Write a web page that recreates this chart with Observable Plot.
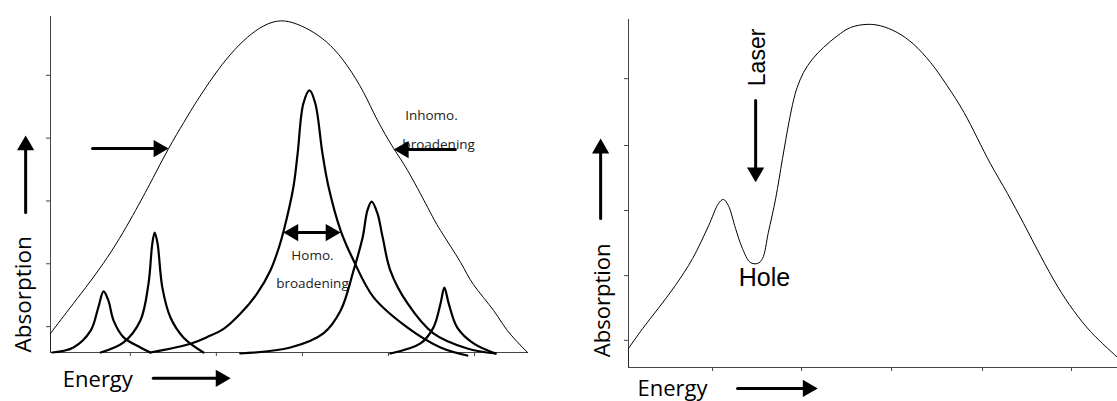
<!DOCTYPE html>
<html><head><meta charset="utf-8">
<script src="https://cdn.jsdelivr.net/npm/d3@7"></script>
<script src="https://cdn.jsdelivr.net/npm/@observablehq/plot@0.6"></script>
<style>
body{margin:0;background:#fff;}
#wrap{display:flex;width:1117px;height:401px;overflow:hidden;background:#fff;}
</style></head><body><div id="wrap"></div>
<script>
// ---------- Left panel data (energy 0-100, absorption 0-100) ----------
const leftEnergyTicks = [16.7, 34.7, 52.7, 70.7, 88.7];
const leftAbsTicks = [7.7, 26.4, 45.1, 63.8, 82.5];

const inhomoX = [0, 4.8, 11.9, 17.8, 21.5, 24.7, 27.9, 30.7, 34.2, 37.7, 41.2, 44.6, 48.1, 51.6, 55.1, 58.6, 62.1, 65.5, 68.3, 71.8, 74.7, 78.9, 81.6, 85.8, 88.5, 92.7, 95.6, 99.8];
const inhomoY = [5.7, 14.6, 28.3, 42.3, 52.1, 60.7, 68.5, 75.0, 82.4, 88.8, 93.8, 97.2, 98.7, 97.7, 95.2, 91.3, 85.3, 77.4, 69.4, 60.7, 54.2, 43.2, 36.3, 26.8, 20.2, 12.5, 6.5, 0];

const peak1X = [0.4, 4.8, 8.4, 10.0, 11.1, 12.1, 13.2, 15.3, 18.8, 20.9];
const peak1Y = [0, 1.5, 6.5, 13.4, 18.2, 15.5, 9.5, 4.5, 1.5, 0];

const peak2X = [10.5, 15.3, 18.8, 20.5, 21.3, 21.8, 22.4, 23.4, 25.1, 27.8, 32.0];
const peak2Y = [0, 3.0, 9.5, 20.5, 32.4, 35.7, 32.4, 19.3, 10.4, 4.5, 0];

const peak3X = [20.9, 29.3, 32.8, 36.3, 39.7, 43.2, 46.0, 47.8, 48.8, 50.8, 51.7, 52.9, 54.2, 55.4, 56.9, 58.2, 60.7, 63.4, 67.6, 74.7, 81.6, 87.2];
const peak3Y = [0, 2.6, 4.6, 7.1, 11.5, 17.5, 24.4, 31.3, 36.3, 49.1, 59.2, 74.1, 78.0, 74.1, 59.2, 49.1, 36.3, 27.4, 16.4, 7.4, 1.5, -0.9];

const peak4X = [39.7, 50.2, 57.1, 60.7, 63.4, 65.3, 66.3, 67.2, 68.4, 69.5, 71.1, 74.7, 80.1, 87.2, 93.1];
const peak4Y = [-0.3, 1.5, 5.7, 12.5, 24.4, 34.2, 42.3, 44.9, 41.4, 34.2, 24.4, 14.6, 5.7, 1.2, -0.3];

const peak5X = [71.1, 77.4, 80.1, 81.6, 82.4, 83.3, 85.1, 88.5, 93.1];
const peak5Y = [-0.3, 2.7, 7.4, 14.6, 19.3, 14.6, 7.4, 2.7, -0.3];

// ---------- Right panel data ----------
const rightEnergyTicks = [17.2, 35.4, 53.8, 72.4, 90.6];
const rightAbsTicks = [7.8, 26.4, 45.1, 63.8, 83.0];

const holeX = [0, 2.9, 6.1, 9.6, 13.1, 16.4, 18.4, 19.4, 20.4, 21.9, 23.3, 24.9, 26.4, 27.4, 28.6, 30.1, 31.5, 32.8, 33.8, 34.5, 35.8, 37.6, 39.9, 42.7, 45.4, 48.8, 51.5, 54.9, 58.3, 61.8, 65.2, 68.6, 74.0, 77.5, 80.8, 84.3, 87.7, 91.0, 94.5, 100];
const holeY = [5.5, 11.2, 17.0, 23.6, 31.3, 40.8, 47.1, 48.3, 46.6, 39.9, 34.2, 30.2, 29.9, 31.3, 38.8, 48.6, 60.1, 70.4, 77.1, 80.5, 84.8, 88.6, 92.0, 95.3, 97.7, 98.6, 98.2, 96.3, 92.9, 87.6, 80.9, 73.3, 58.6, 50.0, 41.4, 32.0, 23.4, 16.4, 10.3, 2.9];

// ---------- helpers ----------
const toRows = (name, xs, ys) => xs.map((x, i) => ({series: name, energy: x, abs: ys[i]}));

const R = 6.4;                       // triangle head "radius"
const HEAD = R * 2 * Math.sqrt(Math.PI / (3 * Math.sqrt(3))); // centroid→tip distance (px)
function arrowMarks(a) {
  const dirX = Math.sign(a.x2 - a.x1), dirY = -Math.sign(a.y2 - a.y1);
  const rot = dirX > 0 ? 90 : dirX < 0 ? -90 : dirY > 0 ? 180 : 0;
  const marks = [
    Plot.arrow([a], {x1: "x1", y1: "y1", x2: "x2", y2: "y2", headLength: 0, strokeWidth: 3,
      stroke: "black", insetEnd: 8, insetStart: a.both ? 8 : 0})
  ];
  marks.push(Plot.dot([a], {x: "x2", y: "y2", symbol: "triangle", r: R, fill: "black", stroke: "none",
    rotate: rot, dx: -dirX * HEAD, dy: -dirY * HEAD}));
  if (a.both) marks.push(Plot.dot([a], {x: "x1", y: "y1", symbol: "triangle", r: R, fill: "black", stroke: "none",
    rotate: rot + 180, dx: dirX * HEAD, dy: dirY * HEAD}));
  return marks;
}

const calibri = "'Open Sans', Lato, sans-serif";
const arial = "'Liberation Sans', Arial, sans-serif";

// ---------- Left plot ----------
const inhomo = toRows("inhomo", inhomoX, inhomoY);
const peaks = [
  ...toRows("p1", peak1X, peak1Y), ...toRows("p2", peak2X, peak2Y), ...toRows("p3", peak3X, peak3Y),
  ...toRows("p4", peak4X, peak4Y), ...toRows("p5", peak5X, peak5Y)
];

const left = Plot.plot({
  width: 560, height: 401,
  marginLeft: 50, marginRight: 32, marginTop: 16, marginBottom: 49,
  x: {domain: [0, 100], label: null},
  y: {domain: [0, 100], label: null},
  style: {fontFamily: calibri, background: "white", overflow: "visible"},
  marks: [
    Plot.ruleX([0], {stroke: "#444"}),
    Plot.ruleY([0], {stroke: "#444"}),
    Plot.axisX(leftEnergyTicks, {tickSize: 4, tickFormat: () => "", stroke: "#444", label: null}),
    Plot.axisY(leftAbsTicks, {tickSize: 4, tickFormat: () => "", stroke: "#444", label: null}),
    Plot.ruleX(inhomo.slice(0, 1), {x: "energy", y1: 0, y2: "abs", stroke: "#222"}),
    Plot.text(["Inhomo."], {x: 79.7, y: 70.5, fontSize: 13.5, fill: "#222"}),
    Plot.text(["broadening"], {x: 81.2, y: 61.9, fontSize: 13.5, fill: "#222"}),
    Plot.text(["Homo."], {x: 54.8, y: 28.9, fontSize: 13.5, fill: "#222"}),
    Plot.text(["broadening"], {x: 54.8, y: 20.5, fontSize: 13.5, fill: "#222"}),
    Plot.line(inhomo, {x: "energy", y: "abs", curve: "natural", stroke: "black", strokeWidth: 1}),
    Plot.line(peaks, {x: "energy", y: "abs", z: "series", curve: "catmull-rom", stroke: "black", strokeWidth: 2.2}),
    Plot.text(["Absorption"], {x: -5.6, y: 17.3, rotate: -90, fontSize: 22.5, fill: "black"}),
    Plot.text(["Energy"], {x: 9.9, y: -8.3, fontSize: 22, fill: "black"}),
    ...arrowMarks({x1: -5.2, y1: 41.7, x2: -5.2, y2: 64.6}),
    ...arrowMarks({x1: 21.5, y1: -7.7, x2: 37.7, y2: -7.7}),
    ...arrowMarks({x1: 8.8, y1: 60.7, x2: 24.7, y2: 60.7}),
    ...arrowMarks({x1: 84.7, y1: 60.4, x2: 71.8, y2: 60.4}),
    ...arrowMarks({x1: 48.7, y1: 35.7, x2: 60.7, y2: 35.7, both: true})
  ]
});

// ---------- Right plot ----------
const hole = toRows("hole", holeX, holeY);
const right = Plot.plot({
  width: 557, height: 401,
  marginLeft: 68, marginRight: 0, marginTop: 19, marginBottom: 34,
  x: {domain: [0, 100], label: null},
  y: {domain: [0, 100], label: null},
  style: {fontFamily: calibri, background: "white", overflow: "visible"},
  marks: [
    Plot.ruleX([0], {stroke: "#444"}),
    Plot.ruleY([0], {stroke: "#444"}),
    Plot.axisX(rightEnergyTicks, {tickSize: 4, tickFormat: () => "", stroke: "#444", label: null}),
    Plot.axisY(rightAbsTicks, {tickSize: 4, tickFormat: () => "", stroke: "#444", label: null}),
    Plot.ruleX(hole.slice(0, 1), {x: "energy", y1: 0, y2: "abs", stroke: "#222"}),
    Plot.line(hole, {x: "energy", y: "abs", curve: "catmull-rom", stroke: "black", strokeWidth: 1}),
    Plot.text(["Laser"], {x: 26.4, y: 89.1, rotate: -90, fontSize: 23, fontFamily: arial, fill: "black"}),
    Plot.text(["Hole"], {x: 27.8, y: 25.6, fontSize: 25, fontFamily: arial, fill: "black"}),
    Plot.text(["Absorption"], {x: -5.3, y: 19.3, rotate: -90, fontSize: 22, fill: "black"}),
    Plot.text(["Energy"], {x: 9.0, y: -6.3, fontSize: 22, fill: "black"}),
    ...arrowMarks({x1: 26.0, y1: 76.7, x2: 26.0, y2: 53.2}),
    ...arrowMarks({x1: -5.7, y1: 42.8, x2: -5.7, y2: 65.8}),
    ...arrowMarks({x1: 22.3, y1: -6.0, x2: 38.7, y2: -6.0})
  ]
});

const wrap = document.getElementById("wrap");
wrap.appendChild(left);
wrap.appendChild(right);
</script></body></html>
